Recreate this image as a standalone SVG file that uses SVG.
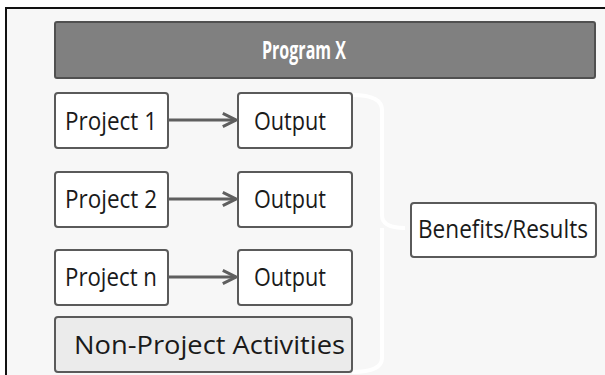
<svg xmlns="http://www.w3.org/2000/svg" width="605" height="375" viewBox="0 0 605 375">
<defs>
<style>
.box{fill:#ffffff;stroke:#5a5a5a;stroke-width:2}
.t{font-family:"Open Sans","Liberation Sans",sans-serif;font-size:25px;fill:#1a1a1a}
.conn{stroke:#5f5f5f;stroke-width:3;fill:none}
</style>
<marker id="chev" viewBox="0 0 10 10" refX="9" refY="5" markerWidth="5.5" markerHeight="5.5" orient="auto" markerUnits="strokeWidth">
<path d="M1,1 L9,5 L1,9" fill="none" stroke="#5f5f5f" stroke-width="1.8"/>
</marker>
</defs>
<rect x="0" y="0" width="605" height="375" fill="#ffffff"/>
<rect x="6" y="8" width="599" height="367" fill="#f7f7f7"/>
<path d="M6,375 L6,8 L605,8" fill="none" stroke="#111" stroke-width="2"/>
<path d="M352,95 Q382,95 382,110 L382,215 Q382,228 405,228 M382,228 L382,358 Q382,372 352,372" fill="none" stroke="#ffffff" stroke-width="4"/>
<g id="program">
<rect x="55" y="22" width="540" height="56" rx="2" fill="#808080" stroke="#505050" stroke-width="2"/>
<text x="262" y="59" font-family="Open Sans,Liberation Sans,sans-serif" font-size="25" font-weight="bold" fill="#ffffff" textLength="84" lengthAdjust="spacingAndGlyphs">Program X</text>
</g>
<g id="project1">
<rect class="box" x="55" y="93" width="113" height="55" rx="3"/>
<text class="t" x="65" y="130" textLength="92" lengthAdjust="spacingAndGlyphs">Project 1</text>
</g>
<g id="output1">
<rect class="box" x="238" y="93" width="114" height="55" rx="3"/>
<text class="t" x="254" y="130" textLength="72" lengthAdjust="spacingAndGlyphs">Output</text>
</g>
<g id="project2">
<rect class="box" x="55" y="172" width="113" height="55" rx="3"/>
<text class="t" x="65" y="208" textLength="92" lengthAdjust="spacingAndGlyphs">Project 2</text>
</g>
<g id="output2">
<rect class="box" x="238" y="172" width="114" height="55" rx="3"/>
<text class="t" x="254" y="208" textLength="72" lengthAdjust="spacingAndGlyphs">Output</text>
</g>
<g id="projectn">
<rect class="box" x="55" y="250" width="113" height="55" rx="3"/>
<text class="t" x="65" y="286" textLength="92" lengthAdjust="spacingAndGlyphs">Project n</text>
</g>
<g id="outputn">
<rect class="box" x="238" y="250" width="114" height="55" rx="3"/>
<text class="t" x="254" y="286" textLength="72" lengthAdjust="spacingAndGlyphs">Output</text>
</g>
<g id="nonproject">
<rect x="55" y="317" width="297" height="55" rx="3" fill="#ebebeb" stroke="#5a5a5a" stroke-width="2"/>
<text class="t" x="74" y="354" font-size="28" textLength="271" lengthAdjust="spacingAndGlyphs">Non-Project Activities</text>
</g>
<g id="benefits">
<rect class="box" x="411" y="203" width="185" height="54" rx="3"/>
<text class="t" x="418" y="238" textLength="170" lengthAdjust="spacingAndGlyphs">Benefits/Results</text>
</g>
<g id="connectors">
<line class="conn" x1="168" y1="120" x2="236" y2="120" marker-end="url(#chev)"/>
<line class="conn" x1="168" y1="199" x2="236" y2="199" marker-end="url(#chev)"/>
<line class="conn" x1="168" y1="277" x2="236" y2="277" marker-end="url(#chev)"/>
</g>
</svg>
